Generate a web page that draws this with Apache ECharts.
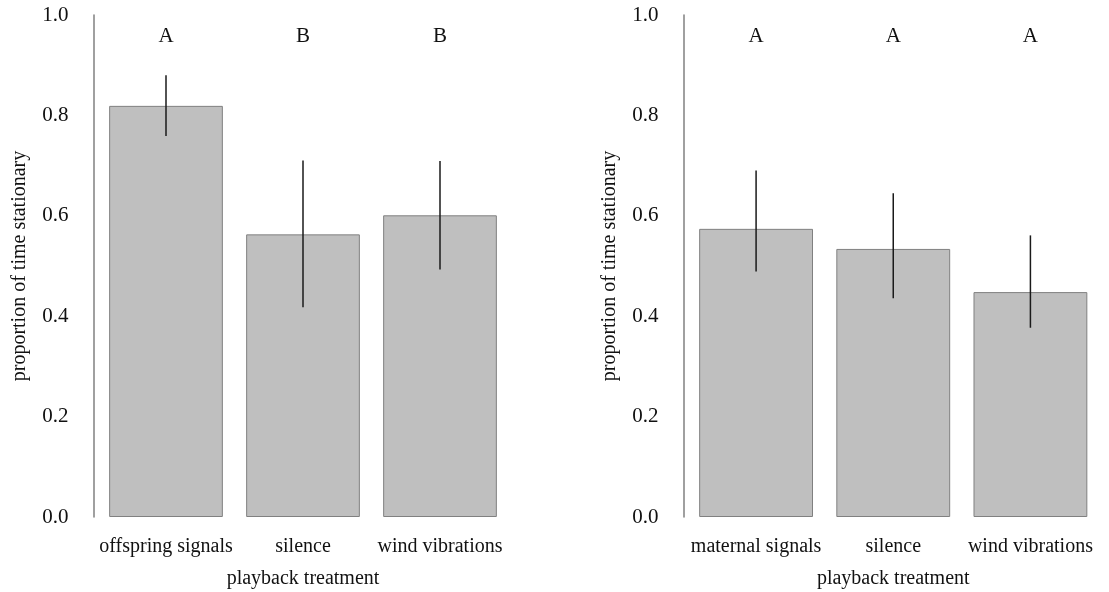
<!DOCTYPE html>
<html lang="en">
<head>
    <meta charset="UTF-8">
    <title>proportion of time stationary</title>
    <script src="https://cdn.jsdelivr.net/npm/echarts@6/dist/echarts.min.js"></script>
    <style>
        body { margin: 0; background: #fff; }
        #chart { width: 1109px; height: 592px; }
    </style>
</head>
<body>
<div id="chart"></div>
<script>
    // left panel: offspring playback
    const leftCats = ['offspring signals', 'silence', 'wind vibrations'];
    const leftMeans = [0.819, 0.563, 0.601];
    const leftLow = [0.759, 0.418, 0.493];
    const leftHigh = [0.880, 0.710, 0.709];
    const leftLetters = ['A', 'B', 'B'];

    // right panel: maternal playback
    const rightCats = ['maternal signals', 'silence', 'wind vibrations'];
    const rightMeans = [0.574, 0.534, 0.448];
    const rightLow = [0.489, 0.436, 0.377];
    const rightHigh = [0.690, 0.645, 0.561];
    const rightLetters = ['A', 'A', 'A'];

    const letterY = 0.96;
    const yTicks = [0, 0.2, 0.4, 0.6, 0.8, 1.0];

    const font = '"Liberation Serif", "DejaVu Serif", serif';
    const chart = echarts.init(document.getElementById('chart'));

    function errorData(low, high) {
        return low.map((v, i) => [i, v, high[i]]);
    }

    function renderError(params, api) {
        const a = api.coord([api.value(0), api.value(1)]);
        const b = api.coord([api.value(0), api.value(2)]);
        return {
            type: 'line',
            shape: { x1: a[0], y1: a[1], x2: b[0], y2: b[1] },
            style: { stroke: '#1a1a1a', lineWidth: 1.5 }
        };
    }

    function renderLetter(params, api) {
        const p = api.coord([api.value(0), api.value(1)]);
        return {
            type: 'text',
            x: p[0], y: p[1] + 1,
            style: {
                text: api.value(2),
                fill: '#111',
                font: '21px ' + font,
                align: 'center',
                verticalAlign: 'middle'
            }
        };
    }

    function xAxis(idx, cats) {
        return {
            type: 'category',
            gridIndex: idx,
            data: cats,
            name: 'playback treatment',
            nameLocation: 'middle',
            nameGap: 52,
            nameTextStyle: { fontFamily: font, fontSize: 20, color: '#111' },
            axisLine: { show: false },
            axisTick: { show: false },
            axisLabel: { fontFamily: font, fontSize: 20, color: '#111', margin: 20, interval: 0 }
        };
    }

    function yAxis(idx) {
        return {
            type: 'value',
            gridIndex: idx,
            min: 0, max: 1, interval: 0.2,
            offset: 4,
            name: 'proportion of time stationary',
            nameLocation: 'middle',
            nameGap: 64,
            nameTextStyle: { fontFamily: font, fontSize: 20, color: '#111' },
            axisLine: { show: true, lineStyle: { color: '#808080', width: 1.5 } },
            axisTick: { show: false },
            splitLine: { show: false },
            axisLabel: {
                fontFamily: font, fontSize: 21, color: '#111', margin: 25,
                formatter: v => yTicks.includes(Math.round(v * 10) / 10) ? v.toFixed(1) : ''
            }
        };
    }

    function panelSeries(idx, means, low, high, letters) {
        return [
            {
                type: 'bar',
                xAxisIndex: idx, yAxisIndex: idx,
                data: means,
                barCategoryGap: '17%',
                itemStyle: { color: '#bfbfbf', borderColor: '#808080', borderWidth: 1 }
            },
            {
                type: 'custom',
                xAxisIndex: idx, yAxisIndex: idx,
                data: errorData(low, high),
                encode: { x: 0, y: [1, 2] },
                renderItem: renderError,
                z: 5
            },
            {
                type: 'custom',
                xAxisIndex: idx, yAxisIndex: idx,
                data: letters.map((l, i) => [i, letterY, l]),
                encode: { x: 0, y: 1 },
                renderItem: renderLetter,
                z: 5
            }
        ];
    }

    const option = {
        animation: false,
        backgroundColor: '#fff',
        grid: [
            { left: 97.5, top: 15, width: 411, height: 502, outerBoundsMode: 'none' },
            { left: 687.5, top: 15, width: 411.5, height: 502, outerBoundsMode: 'none' }
        ],
        xAxis: [xAxis(0, leftCats), xAxis(1, rightCats)],
        yAxis: [yAxis(0), yAxis(1)],
        series: [
            ...panelSeries(0, leftMeans, leftLow, leftHigh, leftLetters),
            ...panelSeries(1, rightMeans, rightLow, rightHigh, rightLetters)
        ]
    };

    chart.setOption(option);
</script>
</body>
</html>
